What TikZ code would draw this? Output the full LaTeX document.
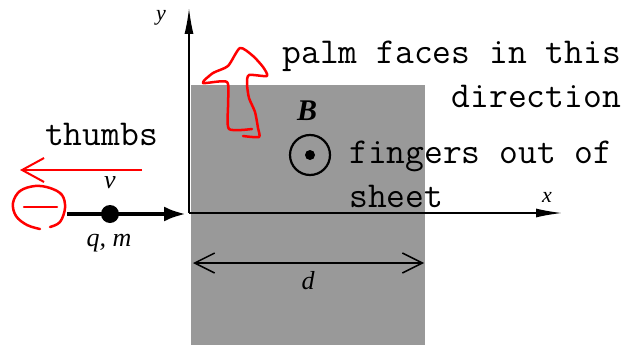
\documentclass[tikz,border=0pt]{standalone}
\usepackage{fontspec}
\setmainfont{Liberation Serif}
\usetikzlibrary{arrows.meta, positioning}

\begin{document}
\begin{tikzpicture}[x=1pt, y=-1pt, >={Latex[length=26pt,width=9pt]},
  mono/.style={font=\ttfamily\fontsize{36.5}{44}\selectfont, inner sep=0pt},
  lbl/.style={font=\fontsize{#1}{#1}\selectfont\itshape, inner sep=0pt},
  lbl/.default=26,
  scribble/.style={red, line width=2.5pt, line cap=round, line join=round}]
  \definecolor{bandgray}{HTML}{999999}
  \useasboundingbox (0,0) rectangle (636,345);

  % Field region
  \fill[bandgray] (191,85) rectangle (425,345);

  % Axes
  \coordinate (origin) at (189,213);
  \coordinate (xend) at (562,213);
  \coordinate (yend) at (189,8);
  \draw[->, line width=1.5pt] (origin) -- (xend);
  \draw[->, line width=1.5pt] (origin) -- (yend);
  \node (xlbl) [lbl=22] at (547,197) {x};
  \node (ylbl) [lbl=22] at (161,18) {y};

  % Width of the region
  \coordinate (dleft) at (193,263);
  \coordinate (dright) at (424,263);
  \draw[{Straight Barb[length=20pt,width=20pt]}-{Straight Barb[length=20pt,width=20pt]}, line width=1.5pt] (dleft) -- (dright);
  \node (dlbl) [lbl] at (308,281) {d};

  % Magnetic field out of the page
  \node (bname) [font=\fontsize{30}{30}\selectfont\bfseries\itshape, inner sep=0pt] at (307,111) {B};
  \node (bfield) [draw, circle, line width=2.2pt, minimum size=40pt, inner sep=0pt] at (310,155) {};
  \node (bdot) [fill, circle, minimum size=10pt, inner sep=0pt] at (bfield) {};

  % Charged particle
  \node (charge) [fill, circle, minimum size=18pt, inner sep=0pt] at (110,214) {};
  \coordinate (pstart) at (67,214);
  \coordinate (pend) at (186,214);
  \draw[line width=4pt, -{Latex[length=22pt,width=15pt]}] (pstart) -- (pend);
  \node (vel) [lbl] at (110,183) {v};
  \node (qm) [lbl] at (109,243) {q, m};

  % Right hand rule notes
  \node (palm) [mono, align=right, anchor=base east] at (621,107) {palm faces in this\\direction};
  \node (fingers) [mono, align=left, anchor=base west] at (349,207) {fingers out of\\sheet};
  \node (thumbs) [mono, anchor=base west] at (45,145) {thumbs};

  % Red pen marks
  \coordinate (tstart) at (142,170);
  \coordinate (tend) at (20,170);
  \draw[red, line width=2pt, -{Straight Barb[length=22pt,width=24pt]}] (tstart) -- (tend);
  \draw[scribble] plot[smooth, tension=0.6] coordinates {(50,227) (60,222) (65,208) (62,195) (50,188) (35,186) (20,191) (13,203) (16,216) (27,225) (40,229)};
  \draw[scribble] (24,207) -- (57,207); % minus sign
  \draw[scribble] plot[smooth, tension=0.4] coordinates {(252,129) (229,129) (228,105) (227,82) (203,83) (213,73) (228,66) (240,48) (253,56) (263,67) (267,76) (249,75) (247,84) (249,98) (255,112) (258,128) (259,137) (243,136)};
\end{tikzpicture}
\end{document}
